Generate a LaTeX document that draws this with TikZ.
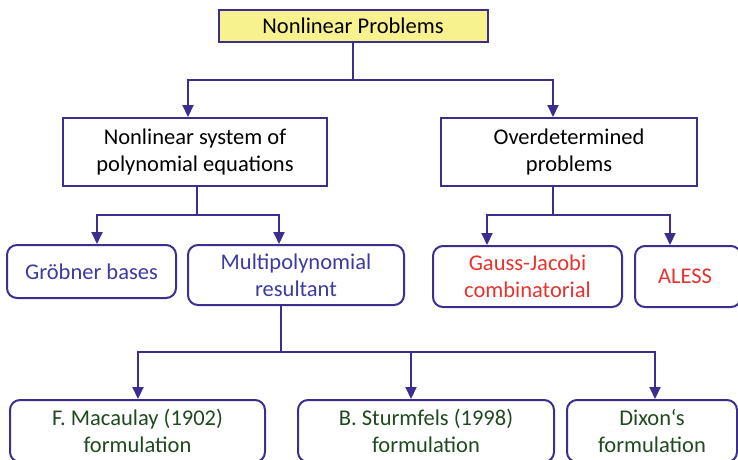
\documentclass[tikz,border=0pt]{standalone}
\usepackage{fontspec}
\setmainfont{Carlito}
\usetikzlibrary{arrows.meta}
\definecolor{bord}{HTML}{3B2E8E}
\definecolor{yel}{HTML}{F7F28E}
\definecolor{bluetxt}{HTML}{3B3BA0}
\definecolor{redtxt}{HTML}{E8322E}
\definecolor{greentxt}{HTML}{1F4A1F}
\tikzset{
  box/.style={draw=bord, line width=2pt, align=center, inner sep=0pt,
    font=\fontsize{22.5}{27}\selectfont},
  rbox/.style={box, rounded corners=10pt},
  line/.style={draw=bord, line width=2pt},
  arr/.style={line, -{Triangle[width=11pt,length=12pt]}}
}
\begin{document}
\begin{tikzpicture}[x=1pt,y=-1pt]
\useasboundingbox (0,0) rectangle (738,459);
\clip (0,0) rectangle (738,459);
\node[box, fill=yel, minimum width=269pt, minimum height=32pt] (top) at (353,26) {Nonlinear Problems};
\node[box, minimum width=264pt, minimum height=68pt] (ns) at (195,152) {Nonlinear system of\\polynomial equations};
\node[box, minimum width=256pt, minimum height=68pt] (od) at (569,152) {Overdetermined\\problems};
\node[rbox, text=bluetxt, minimum width=169pt, minimum height=53pt] (gb) at (91.5,271.5) {Gröbner bases};
\node[rbox, text=bluetxt, minimum width=216pt, minimum height=60pt] (mr) at (296,275) {Multipolynomial\\resultant};
\node[rbox, text=redtxt, minimum width=189pt, minimum height=61pt] (gj) at (527.5,276.5) {Gauss-Jacobi\\combinatorial};
\node[rbox, text=redtxt, minimum width=106pt, minimum height=61pt, text width=106pt] (al) at (688,276.5) {\hspace*{-6pt}ALESS};
\node[rbox, text=greentxt, minimum width=255pt, minimum height=62pt] (fm) at (137.5,431) {F. Macaulay (1902)\\formulation};
\node[rbox, text=greentxt, minimum width=256pt, minimum height=62pt] (bs) at (426,431) {B. Sturmfels (1998)\\formulation};
\node[rbox, text=greentxt, minimum width=170pt, minimum height=62pt] (dx) at (652,431) {Dixon‘s\\formulation};
% connectors level 1
\coordinate (b1) at (353,80);
\draw[line] (top.south) -- (b1);
\draw[arr] (b1) -| ([xshift=-7pt]ns.north);
\draw[arr] (b1) -| ([xshift=-16pt]od.north);
% level 2 left
\coordinate (b2) at (197,215);
\draw[line] (ns.south -| b2) -- (b2);
\draw[arr] (b2) -| ([xshift=5.5pt]gb.north);
\draw[arr] (b2) -| ([xshift=-17pt]mr.north);
% level 2 right
\coordinate (b3) at (553,215);
\draw[line] (od.south -| b3) -- (b3);
\draw[arr] (b3) -| ([xshift=-40.5pt]gj.north);
\draw[arr] (b3) -| ([xshift=-18pt]al.north);
% level 3
\coordinate (b4) at (281,352);
\draw[line] (mr.south -| b4) -- (b4);
\draw[arr] (b4) -| ([xshift=0.5pt]fm.north);
\draw[arr] (b4) -| ([xshift=-15pt]bs.north);
\draw[arr] (b4) -| ([xshift=3pt]dx.north);
\end{tikzpicture}
\end{document}
